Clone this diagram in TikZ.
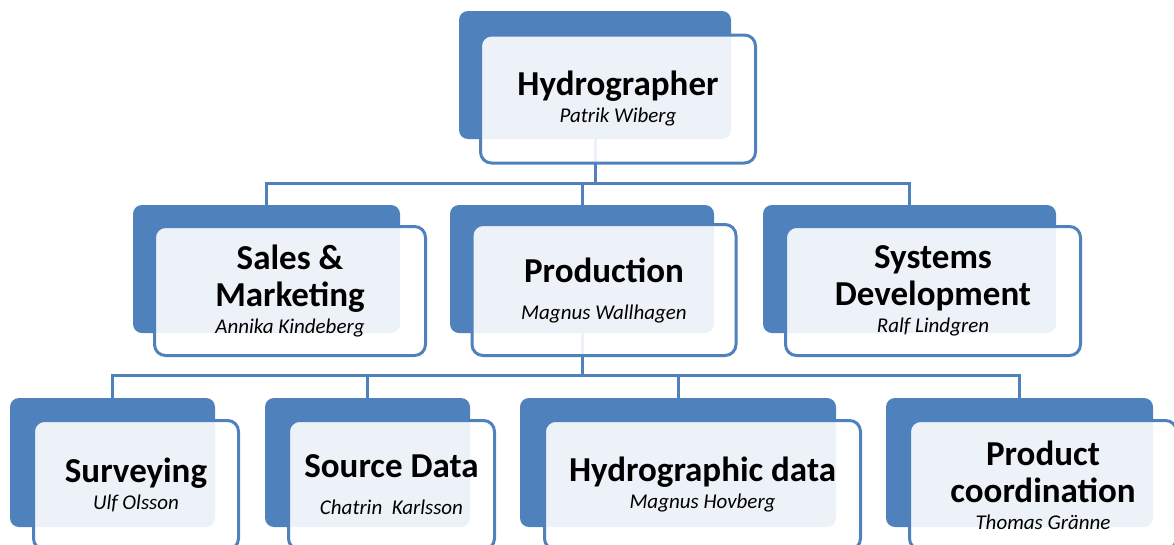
\documentclass[tikz,border=0pt]{standalone}
\usepackage{fontspec}
\setmainfont{Carlito}
\definecolor{orgblue}{RGB}{79,129,189}

\begin{document}
\begin{tikzpicture}[x=1pt, y=-1pt,
  back/.style={rectangle, rounded corners=9pt, fill=orgblue, inner sep=0pt},
  front/.style={rectangle, rounded corners=11pt, draw=orgblue, line width=3pt, fill=white, fill opacity=0.9, text opacity=1, align=center, inner sep=0pt, font=\fontsize{35}{37}\selectfont\bfseries},
  link/.style={draw=orgblue, line width=3pt}]
  \useasboundingbox (0,0) rectangle (1174,544);
  \newcommand{\who}[1]{{\fontsize{21}{22}\selectfont\mdseries\itshape #1}}
  % back shapes
  \node[back, minimum width=272, minimum height=128] (hydB) at (595, 75) {};
  \node[back, minimum width=267, minimum height=128] (salesB) at (266.5, 269) {};
  \node[back, minimum width=264, minimum height=128] (prodB) at (582, 269) {};
  \node[back, minimum width=293, minimum height=128] (sysB) at (909.5, 269) {};
  \node[back, minimum width=205, minimum height=129] (survB) at (112.5, 462.5) {};
  \node[back, minimum width=205, minimum height=129] (srcB) at (367.5, 462.5) {};
  \node[back, minimum width=316, minimum height=129] (hdataB) at (678, 462.5) {};
  \node[back, minimum width=267, minimum height=129] (pcoordB) at (1019.5, 462.5) {};
  % connectors
  \coordinate (bus1) at (595, 183);
  \coordinate (bus2) at (582, 375);
  \draw[link] (hydB.south) -- (bus1) -| (salesB.north);
  \draw[link] (bus1) -| (prodB.north);
  \draw[link] (bus1) -| (sysB.north);
  \draw[link] (prodB.south) -- (bus2) -| (survB.north);
  \draw[link] (bus2) -| (srcB.north);
  \draw[link] (bus2) -| (hdataB.north);
  \draw[link] (bus2) -| (pcoordB.north);
  % front shapes
  \node[front, minimum width=275, minimum height=128] (hyd) at (618, 99) {Hydrographer\\[-10pt]\who{Patrik Wiberg}};
  \node[front, minimum width=271, minimum height=129] (sales) at (290, 291) {Sales \&\\Marketing\\[-10pt]\who{Annika Kindeberg}};
  \node[front, minimum width=264, minimum height=131] (prod) at (604, 290) {Production\\\who{Magnus Wallhagen}};
  \node[front, minimum width=295, minimum height=129] (sys) at (933, 291) {Systems\\Development\\[-10pt]\who{Ralf Lindgren}};
  \node[front, minimum width=205, minimum height=129] (surv) at (136, 485) {Surveying\\[-10pt]\who{Ulf Olsson}};
  \node[front, minimum width=206, minimum height=129] (src) at (391.5, 485) {Source Data\\\who{Chatrin\ \ Karlsson}};
  \node[front, minimum width=316, minimum height=129] (hdata) at (702.5, 485) {Hydrographic data\\[-10pt]\who{Magnus Hovberg}};
  \node[front, minimum width=267, minimum height=129] (pcoord) at (1043, 485) {Product\\coordination\\[-10pt]\who{Thomas Gränne}};
\end{tikzpicture}
\end{document}
